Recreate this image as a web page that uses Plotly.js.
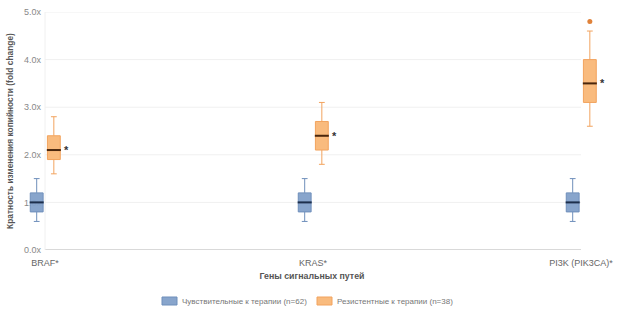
<!DOCTYPE html>
<html>
<head>
<meta charset="utf-8">
<script src="https://cdn.plot.ly/plotly-3.0.1.min.js"></script>
<style>html,body{margin:0;padding:0;background:#fff;}#chart{width:623px;height:317px;}</style>
</head>
<body>
<div id="chart"></div>
<script>
// ---- data ----
const categories = ["BRAF*", "KRAS*", "PI3K (PIK3CA)*"];
const seriesNames = ["Чувствительные к терапии (n=62)", "Резистентные к терапии (n=38)"];
// sensitive group stats per category
const sensLow = [0.6, 0.6, 0.6];
const sensQ1 = [0.8, 0.8, 0.8];
const sensMed = [1.0, 1.0, 1.0];
const sensQ3 = [1.2, 1.2, 1.2];
const sensHigh = [1.5, 1.5, 1.5];
// resistant group stats per category
const resLow = [1.6, 1.8, 2.6];
const resQ1 = [1.9, 2.1, 3.1];
const resMed = [2.1, 2.4, 3.5];
const resQ3 = [2.4, 2.7, 4.0];
const resHigh = [2.8, 3.1, 4.6];
// outliers (resistant)
const outlierCat = [2];
const outlierVal = [4.8];
const significance = ["*", "*", "*"];
const yTickVals = [0, 1, 2, 3, 4, 5];
const yTickText = ["0.0x", "1.0x", "2.0x", "3.0x", "4.0x", "5.0x"];

// ---- styling / layout constants ----
const font = "Liberation Sans, Arial, sans-serif";
const offSens = -0.031, offRes = 0.033, boxW = 0.048;
const catIdx = categories.map((c, i) => i);
const sensX = catIdx.map(i => i + offSens);
const resX = catIdx.map(i => i + offRes);

const sensFill = "rgba(130,160,201,0.95)", sensLine = "#6f8fbb";
const resFill = "rgba(248,180,112,0.9)", resLine = "#f2a35e";

const traces = [
  {
    type: "box", name: seriesNames[0], x: sensX,
    lowerfence: sensLow, q1: sensQ1, median: sensMed, q3: sensQ3, upperfence: sensHigh,
    width: boxW, whiskerwidth: 0.45,
    fillcolor: sensFill, line: {color: sensLine, width: 1},
    boxpoints: false, hoverinfo: "skip", showlegend: false
  },
  {
    type: "box", name: seriesNames[1], x: resX,
    lowerfence: resLow, q1: resQ1, median: resMed, q3: resQ3, upperfence: resHigh,
    width: boxW, whiskerwidth: 0.45,
    fillcolor: resFill, line: {color: resLine, width: 1},
    boxpoints: false, hoverinfo: "skip", showlegend: false
  },
  {
    type: "scatter", mode: "markers", x: sensX, y: sensMed, showlegend: false, hoverinfo: "skip",
    marker: {symbol: "line-ew", size: 10, line: {color: "#1d2f4c", width: 2}}
  },
  {
    type: "scatter", mode: "markers", x: resX, y: resMed, showlegend: false, hoverinfo: "skip",
    marker: {symbol: "line-ew", size: 10, line: {color: "#4a260c", width: 2}}
  },
  {
    type: "scatter", mode: "markers", x: outlierCat.map(i => i + offRes), y: outlierVal,
    showlegend: false, hoverinfo: "skip",
    marker: {symbol: "circle", size: 5, color: "#e0823a"}
  }
];

const L = 24, R = 600, W = 623, H = 317, T = 12, B = 250;
const x0px = 45, x2px = 581;
const pxPerUnit = (x2px - x0px) / (categories.length - 1);
const px2paperX = px => (px - L) / (R - L);
const px2paperY = py => (B - py) / (B - T);

const shapes = yTickVals.map(v => ({
  type: "line", xref: "x", yref: "y", x0: 0, x1: categories.length - 1, y0: v, y1: v,
  layer: "below",
  line: {color: v === 0 ? "#d9d9d9" : "#f0f0f0", width: v === 0 ? 2 : 1}
}));
shapes.push({
  type: "line", xref: "x", yref: "y", x0: 0, x1: 0, y0: 0, y1: yTickVals[yTickVals.length - 1],
  layer: "below", line: {color: "#f0f0f0", width: 1}
});

const annotations = categories.map((c, i) => ({
  x: resX[i], y: resMed[i], xref: "x", yref: "y", text: "<b>" + significance[i] + "</b>",
  showarrow: false, xshift: 13, yshift: 0, font: {family: font, size: 11, color: "#333"}
}));

// custom legend (swatch + label)
const legendItems = [
  {name: seriesNames[0], fill: sensFill, line: sensLine, sx: 162},
  {name: seriesNames[1], fill: resFill, line: resLine, sx: 317}
];
legendItems.forEach(it => {
  shapes.push({
    type: "rect", xref: "paper", yref: "paper",
    x0: px2paperX(it.sx), x1: px2paperX(it.sx + 15),
    y0: px2paperY(305), y1: px2paperY(297),
    fillcolor: it.fill, line: {color: it.line, width: 1}
  });
  annotations.push({
    xref: "paper", yref: "paper", x: px2paperX(it.sx + 18), y: px2paperY(301),
    xanchor: "left", yanchor: "middle", showarrow: false, text: it.name,
    font: {family: font, size: 8, color: "#777"}
  });
});

const layout = {
  width: W, height: H,
  margin: {l: L, r: W - R, t: T, b: H - B, pad: 0},
  paper_bgcolor: "#fff", plot_bgcolor: "rgba(0,0,0,0)",
  showlegend: false,
  font: {family: font, size: 9, color: "#666"},
  xaxis: {
    range: [-(x0px - L) / pxPerUnit, (categories.length - 1) + (R - x2px) / pxPerUnit],
    tickvals: catIdx, ticktext: categories,
    showgrid: false, zeroline: false, showline: false,
    ticks: "outside", ticklen: 4, tickcolor: "rgba(0,0,0,0)",
    tickfont: {family: font, size: 9, color: "#666"}, automargin: false,
    title: {text: "<b>Гены сигнальных путей</b>", font: {family: font, size: 8.8, color: "#555"}, standoff: 6}
  },
  yaxis: {
    range: [0, 5], anchor: "free", position: px2paperX(41), layer: "below traces",
    tickvals: yTickVals, ticktext: yTickText,
    showgrid: false, zeroline: false, showline: false, ticks: "",
    tickfont: {family: font, size: 9, color: "#888"}, automargin: false,
    title: {text: "<b>Кратность изменения копийности (fold change)</b>", font: {family: font, size: 8.4, color: "#555"}, standoff: 8}
  },
  shapes: shapes,
  annotations: annotations
};

Plotly.newPlot("chart", traces, layout, {displayModeBar: false, staticPlot: true});
</script>
</body>
</html>
